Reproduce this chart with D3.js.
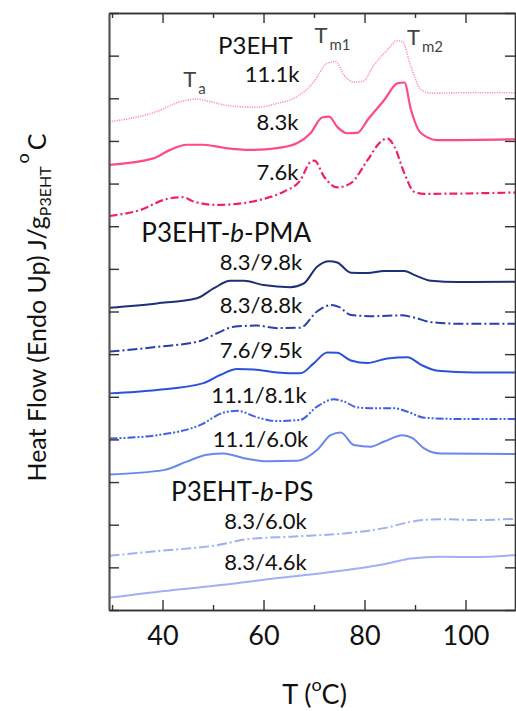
<!DOCTYPE html>
<html>
<head>
<meta charset="utf-8">
<script src="https://cdn.jsdelivr.net/npm/d3@7"></script>
<style>
  body { margin: 0; background: #fff; }
  text { font-family: Lato, "Open Sans", sans-serif; }
</style>
</head>
<body>
<div id="chart"></div>
<script>
// temperature ticks (deg C)
const majorTicks = [40, 60, 80, 100];
const minorTicks = [30, 50, 70, 90, 110];

// DSC traces, stacked with offsets (arbitrary heat flow units)
const temp_p3eht_111 = [29.5, 38.9, 43.5, 46.8, 49.5, 53.4, 58.7, 62.7, 66.7, 70, 72.6, 74.3, 75.9, 77.9, 79.6, 81.9, 84.5, 86.5, 87.5, 89.2, 91.2, 93.2, 100, 110];
const flow_p3eht_111 = [11.45, 11.69, 11.92, 11.98, 11.92, 11.82, 11.79, 11.88, 12.04, 12.39, 12.82, 12.86, 12.55, 12.38, 12.39, 12.78, 13.13, 13.35, 13.33, 12.74, 12.20, 12.12, 12.13, 12.13];

const temp_p3eht_83 = [29.5, 38.2, 41.5, 44.8, 48.1, 52.1, 57.4, 62.7, 66.7, 69.3, 71.6, 73.0, 74.6, 76.6, 78.6, 80.6, 83.9, 86.5, 87.9, 89.2, 91.2, 94.5, 110];
const flow_p3eht_83 = [10.44, 10.59, 10.79, 10.91, 10.91, 10.84, 10.79, 10.83, 10.95, 11.18, 11.55, 11.57, 11.33, 11.18, 11.19, 11.49, 11.96, 12.35, 12.37, 11.73, 11.18, 11.02, 11.04];

const temp_p3eht_76 = [29.5, 35.6, 40.9, 44.1, 46.1, 50.8, 56, 60, 64, 67.3, 69.3, 70.1, 72, 74.6, 77.3, 80.6, 83.2, 84.5, 85.9, 87.9, 89.8, 91.8, 110];
const flow_p3eht_76 = [9.24, 9.38, 9.64, 9.68, 9.58, 9.50, 9.54, 9.64, 9.81, 10.08, 10.51, 10.54, 10.16, 9.91, 10.01, 10.55, 10.98, 11.06, 10.87, 10.24, 9.81, 9.76, 9.79];

const temp_pma_83_98 = [29.5, 38.9, 46.8, 50.1, 53.4, 56.1, 60.0, 65.3, 68.0, 70.6, 73.0, 74.6, 77.3, 80.6, 83.9, 87.9, 89.8, 93.2, 98.4, 110];
const flow_pma_83_98 = [7.09, 7.19, 7.31, 7.54, 7.72, 7.72, 7.62, 7.57, 7.66, 8.05, 8.18, 8.15, 7.91, 7.90, 7.95, 7.95, 7.86, 7.72, 7.69, 7.70];

const temp_pma_83_88 = [29.5, 38.9, 47.5, 50.8, 54.1, 58.7, 62.7, 67.3, 70.6, 73.3, 74.9, 77.3, 81.9, 87.2, 89.8, 93.2, 99.8, 110];
const flow_pma_83_88 = [6.06, 6.17, 6.31, 6.49, 6.64, 6.67, 6.61, 6.62, 7.00, 7.15, 7.11, 6.92, 6.89, 6.91, 6.86, 6.75, 6.71, 6.71];

const temp_pma_76_95 = [29.5, 38.9, 48.1, 51.4, 54.8, 58.1, 62.7, 67.3, 70.0, 72.6, 74.6, 77.3, 80.6, 84.5, 88.5, 91.2, 94.5, 101.8, 110];
const flow_pma_76_95 = [5.08, 5.16, 5.32, 5.51, 5.65, 5.64, 5.57, 5.55, 5.79, 6.04, 6.03, 5.85, 5.79, 5.90, 5.93, 5.75, 5.61, 5.57, 5.57];

const temp_pma_111_81 = [29.5, 38.9, 47.5, 52.1, 54.8, 58.7, 62.7, 67.3, 70.6, 73.9, 75.9, 78.6, 81.9, 85.9, 88.5, 91.8, 98.4, 110];
const flow_pma_111_81 = [4.02, 4.10, 4.34, 4.63, 4.67, 4.52, 4.43, 4.46, 4.77, 4.94, 4.89, 4.75, 4.73, 4.73, 4.65, 4.51, 4.48, 4.48];

const temp_pma_111_60 = [29.5, 40.2, 44.8, 48.8, 52.1, 56.1, 60.7, 66.7, 70.6, 73.3, 75.3, 77.9, 81.2, 83.9, 87.5, 89.5, 91.8, 95.1, 110];
const flow_pma_111_60 = [3.18, 3.28, 3.48, 3.64, 3.67, 3.56, 3.49, 3.50, 3.75, 4.10, 4.16, 3.87, 3.83, 3.95, 4.10, 4.03, 3.79, 3.67, 3.66];

const temp_ps_83_60 = [29.5, 38.9, 50.8, 56.8, 65.3, 77.3, 83.9, 89.2, 95.1, 101.8, 110];
const flow_ps_83_60 = [1.27, 1.38, 1.52, 1.66, 1.72, 1.81, 1.92, 2.07, 2.13, 2.11, 2.14];

const temp_ps_83_46 = [29.5, 42.2, 52.1, 62.0, 72, 81.2, 85.2, 89.2, 95.1, 101.8, 110];
const flow_ps_83_46 = [0.29, 0.47, 0.59, 0.74, 0.87, 1.02, 1.11, 1.21, 1.25, 1.24, 1.29];

const sampleLabels = ["11.1k", "8.3k", "7.6k", "8.3/9.8k", "8.3/8.8k", "7.6/9.5k", "11.1/8.1k", "11.1/6.0k", "8.3/6.0k", "8.3/4.6k"];
const temps = [temp_p3eht_111, temp_p3eht_83, temp_p3eht_76, temp_pma_83_98, temp_pma_83_88, temp_pma_76_95, temp_pma_111_81, temp_pma_111_60, temp_ps_83_60, temp_ps_83_46];
const flows = [flow_p3eht_111, flow_p3eht_83, flow_p3eht_76, flow_pma_83_98, flow_pma_83_88, flow_pma_76_95, flow_pma_111_81, flow_pma_111_60, flow_ps_83_60, flow_ps_83_46];

// look of each trace
const styles = [
  { color: "#ff90b8", width: 1.6, dash: "1.2,1.2" },
  { color: "#ff4a86", width: 2.2, dash: null },
  { color: "#f0206a", width: 2.2, dash: "8,3,2,3" },
  { color: "#1d2f78", width: 2, dash: null },
  { color: "#2440aa", width: 2, dash: "10,3,2,3" },
  { color: "#2a52d8", width: 2, dash: null },
  { color: "#3d60e6", width: 2, dash: "8,2,2,2,2,2" },
  { color: "#6888f0", width: 2, dash: null },
  { color: "#9fb0f6", width: 2, dash: "10,3,2,3" },
  { color: "#9fb0f6", width: 2, dash: null }
];

// label anchor points, in data coords
const labelSpots = [
  [67.1, 12.38, "end"], [66.9, 11.26, "end"], [66.9, 10.08, "end"],
  [59.5, 7.97, "middle"], [59.5, 6.97, "middle"], [59.5, 5.90, "middle"],
  [59.1, 4.86, "middle"], [59.4, 3.82, "middle"], [60.4, 1.90, "middle"], [60.4, 0.94, "middle"]
];

const W = 516, H = 711;
const margin = { top: 13, right: 0, bottom: 101, left: 109 };

const svg = d3.select("#chart").append("svg")
  .attr("width", W).attr("height", H);

const x = d3.scaleLinear().domain([29.4, 110]).range([margin.left, W - margin.right]);
const y = d3.scaleLinear().domain([0, 14]).range([H - margin.bottom, margin.top]);

const line = d3.line()
  .x(d => x(d[0]))
  .y(d => y(d[1]))
  .curve(d3.curveMonotoneX);

// traces
temps.forEach((t, i) => {
  const pts = t.map((v, j) => [v, flows[i][j]]);
  svg.append("path")
    .datum(pts)
    .attr("d", line)
    .attr("fill", "none")
    .attr("stroke", styles[i].color)
    .attr("stroke-width", styles[i].width)
    .attr("stroke-dasharray", styles[i].dash)
    .attr("stroke-linejoin", "round");
});

// sample labels
sampleLabels.forEach((s, i) => {
  const [tx, ty, anchor] = labelSpots[i];
  svg.append("text")
    .attr("x", x(tx)).attr("y", y(ty))
    .attr("text-anchor", anchor)
    .attr("font-size", 22)
    .attr("fill", "#111")
    .text(s);
});

// group titles
const groupTitle = (tx, ty, size, parts) => {
  const t = svg.append("text")
    .attr("x", x(tx)).attr("y", y(ty))
    .attr("font-size", size)
    .attr("fill", "#111");
  parts.forEach(p => t.append("tspan").attr("font-style", p[1] ? "italic" : null).text(p[0]));
};
groupTitle(51.0, 13.04, 24, [["P3EHT", false]]);
groupTitle(35.8, 8.64, 26, [["P3EHT-", false], ["b", true], ["-PMA", false]]);
groupTitle(41.7, 2.56, 26, [["P3EHT-", false], ["b", true], ["-PS", false]]);

// transition markers
const mark = (tx, ty, sub) => {
  const t = svg.append("text")
    .attr("x", x(tx)).attr("y", y(ty))
    .attr("font-size", 22)
    .attr("fill", "#444");
  t.append("tspan").text("T");
  t.append("tspan").attr("font-size", 15).attr("dx", 2).attr("dy", 7).text(sub);
};
mark(44.1, 12.27, "a");
mark(70.1, 13.30, "m1");
mark(88.4, 13.25, "m2");

// axes, ticks pointing inward
const axisColor = "#333";
const styleAxis = g => {
  g.select(".domain").attr("stroke", axisColor).attr("stroke-width", 1.6);
  g.selectAll(".tick line").attr("stroke", axisColor).attr("stroke-width", 1.4);
};

svg.append("g")
  .attr("transform", `translate(0,${y(0)})`)
  .call(d3.axisBottom(x).tickValues(majorTicks).tickSize(-10).tickPadding(16).tickSizeOuter(0))
  .call(styleAxis)
  .call(g => g.selectAll("text").attr("font-size", 27).attr("fill", "#111")
    .attr("font-family", "Lato, 'Open Sans', sans-serif"));
svg.append("g")
  .attr("transform", `translate(0,${y(0)})`)
  .call(d3.axisBottom(x).tickValues(minorTicks).tickSize(-5).tickFormat("").tickSizeOuter(0))
  .call(styleAxis);

svg.append("g")
  .attr("transform", `translate(0,${y(14)})`)
  .call(d3.axisTop(x).tickValues(majorTicks).tickSize(-10).tickFormat("").tickSizeOuter(0))
  .call(styleAxis);
svg.append("g")
  .attr("transform", `translate(0,${y(14)})`)
  .call(d3.axisTop(x).tickValues(minorTicks).tickSize(-5).tickFormat("").tickSizeOuter(0))
  .call(styleAxis);

svg.append("g")
  .attr("transform", `translate(${x(29.4)},0)`)
  .call(d3.axisLeft(y).ticks(14).tickSize(-10).tickFormat("").tickSizeOuter(0))
  .call(styleAxis)
  .call(g => g.select(".domain").attr("stroke", "#555").attr("stroke-width", 2.2));
svg.append("g")
  .attr("transform", `translate(${x(110) - 1},0)`)
  .call(d3.axisRight(y).ticks(14).tickSize(-10).tickFormat("").tickSizeOuter(0))
  .call(styleAxis);

// axis titles
const xt = svg.append("text")
  .attr("x", (x(29.4) + x(110)) / 2 + 2).attr("y", 704)
  .attr("text-anchor", "middle")
  .attr("font-size", 27)
  .attr("fill", "#111");
xt.append("tspan").text("T (");
xt.append("tspan").attr("font-size", 18).attr("dy", -13).text("o");
xt.append("tspan").attr("dy", 13).text("C)");

const yt = svg.append("text")
  .attr("transform", `translate(46,${(y(0) + y(14)) / 2 - 4}) rotate(-90)`)
  .attr("text-anchor", "middle")
  .attr("font-size", 25)
  .attr("fill", "#111");
yt.append("tspan").text("Heat Flow (Endo Up) J/g");
yt.append("tspan").attr("font-size", 16).attr("dy", 5).text("P3EHT");
yt.append("tspan").attr("font-size", 18).attr("dy", -22).attr("dx", 3).text("o");
yt.append("tspan").attr("dy", 17).attr("dx", 3).text("C");
</script>
</body>
</html>
